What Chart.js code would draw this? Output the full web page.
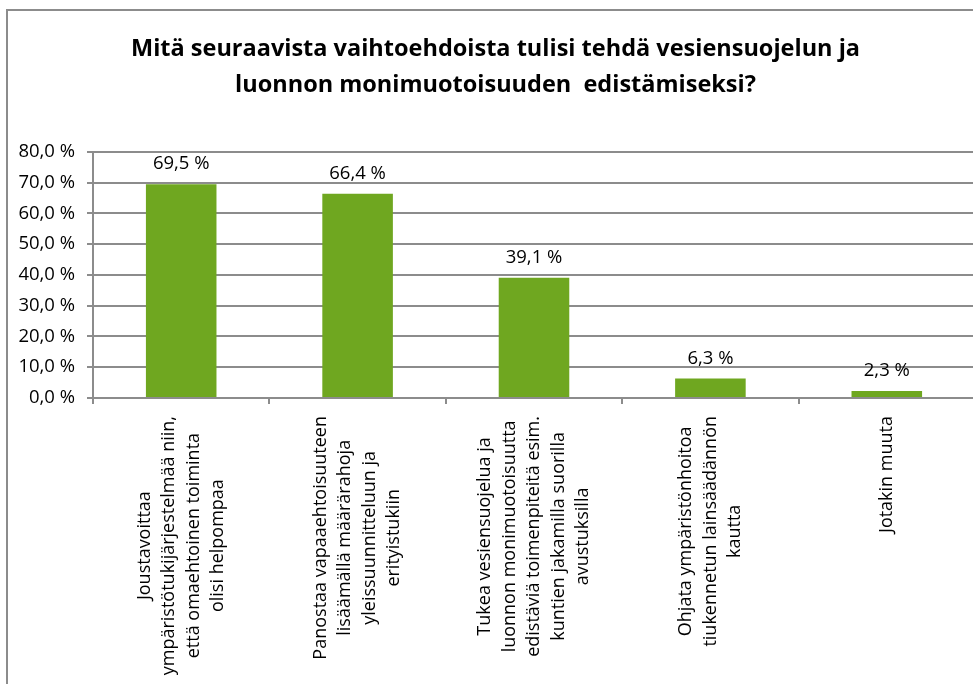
<!DOCTYPE html>
<html>
<head>
<meta charset="utf-8">
<script src="https://cdn.jsdelivr.net/npm/chart.js@4"></script>
<style>
  html, body { margin: 0; padding: 0; background: #ffffff; overflow: hidden; }
  #wrap { position: absolute; left: 0; top: 0; width: 990px; height: 700px; }
</style>
</head>
<body>
<div id="wrap"><canvas id="c" width="990" height="700"></canvas></div>
<script>
const titleLines = [
  "Mitä seuraavista vaihtoehdoista tulisi tehdä vesiensuojelun ja",
  "luonnon monimuotoisuuden  edistämiseksi?"
];
const categories = [
  ["Joustavoittaa", "ympäristötukijärjestelmää niin,", "että omaehtoinen toiminta", "olisi helpompaa"],
  ["Panostaa vapaaehtoisuuteen", "lisäämällä määrärahoja", "yleissuunnitteluun ja", "erityistukiin"],
  ["Tukea vesiensuojelua ja", "luonnon monimuotoisuutta", "edistäviä toimenpiteitä esim.", "kuntien jakamilla suorilla", "avustuksilla"],
  ["Ohjata ympäristönhoitoa", "tiukennetun lainsäädännön", "kautta"],
  ["Jotakin muuta"]
];
const values = [69.5, 66.4, 39.1, 6.3, 2.3];
const yTicks = [0, 10, 20, 30, 40, 50, 60, 70, 80];

const FONT = '"Open Sans", "Noto Sans", sans-serif';
const GREY = '#8c8c8c';
const fmt = v => v.toFixed(1).replace('.', ',') + ' %';

const framePlugin = {
  id: 'frame',
  beforeDraw(chart) {
    const ctx = chart.ctx;
    ctx.save();
    ctx.fillStyle = '#ffffff';
    ctx.fillRect(0, 0, chart.width, chart.height);
    ctx.strokeStyle = GREY;
    ctx.lineWidth = 2;
    ctx.strokeRect(7, 10, 978, 760);
    ctx.restore();
  }
};

const valueLabelPlugin = {
  id: 'valueLabels',
  afterDatasetsDraw(chart) {
    const ctx = chart.ctx;
    const meta = chart.getDatasetMeta(0);
    ctx.save();
    ctx.font = '18.5px ' + FONT;
    ctx.fillStyle = '#000000';
    ctx.textAlign = 'center';
    ctx.textBaseline = 'middle';
    meta.data.forEach((bar, i) => {
      ctx.fillText(fmt(values[i]), bar.x, bar.y - 20);
    });
    ctx.restore();
  }
};

const catLabelPlugin = {
  id: 'catLabels',
  afterDraw(chart) {
    const ctx = chart.ctx;
    const xs = chart.scales.x;
    const top = xs.bottom + 12;
    const lineGap = 24.5;
    ctx.save();
    ctx.font = '18px ' + FONT;
    ctx.fillStyle = '#000000';
    ctx.textAlign = 'center';
    ctx.textBaseline = 'middle';
    categories.forEach((lines, i) => {
      const x = xs.getPixelForValue(i);
      const maxW = Math.max(...lines.map(l => ctx.measureText(l).width));
      ctx.save();
      ctx.translate(x, top);
      ctx.rotate(-Math.PI / 2);
      lines.forEach((l, j) => {
        ctx.fillText(l, -maxW / 2, (j - (lines.length - 1) / 2) * lineGap);
      });
      ctx.restore();
    });
    ctx.restore();
  }
};

new Chart(document.getElementById('c'), {
  type: 'bar',
  data: {
    labels: categories,
    datasets: [{
      data: values,
      backgroundColor: '#6fa720',
      borderWidth: 0,
      barPercentage: 0.4,
      categoryPercentage: 1.0
    }]
  },
  options: {
    responsive: false,
    animation: false,
    devicePixelRatio: 1,
    layout: { padding: { left: 16, right: 15, top: 0, bottom: 296 } },
    plugins: {
      legend: { display: false },
      tooltip: { enabled: false },
      title: {
        display: true,
        text: titleLines,
        color: '#000000',
        font: { family: FONT, size: 23.5, weight: 'bold', lineHeight: 1.55 },
        padding: { top: 31, bottom: 48 }
      }
    },
    scales: {
      x: {
        ticks: { display: false },
        grid: {
          display: true,
          drawOnChartArea: false,
          drawTicks: true,
          tickLength: 6,
          color: GREY,
          lineWidth: 2,
          offset: true
        },
        border: { display: true, color: GREY, width: 2 }
      },
      y: {
        min: 0,
        max: 80,
        afterBuildTicks(scale) { scale.ticks = yTicks.map(v => ({ value: v })); },
        afterFit(scale) { scale.width = 77; },
        ticks: {
          callback: v => fmt(v),
          color: '#000000',
          padding: 12,
          font: { family: FONT, size: 18.5 }
        },
        grid: {
          color: GREY,
          lineWidth: 2,
          drawTicks: true,
          tickLength: 6
        },
        border: { display: true, color: GREY, width: 2 }
      }
    }
  },
  plugins: [framePlugin, valueLabelPlugin, catLabelPlugin]
});
</script>
</body>
</html>
